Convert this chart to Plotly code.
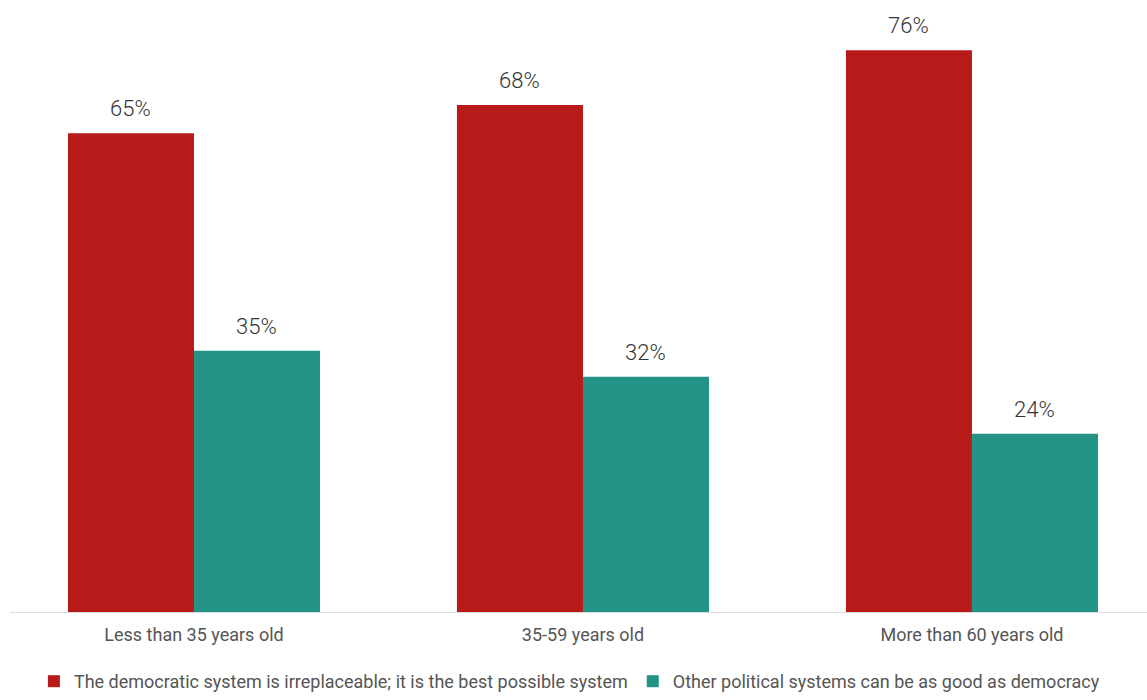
import plotly.graph_objects as go

categories = ["Less than 35 years old", "35-59 years old", "More than 60 years old"]
series_names = [
    "The democratic system is irreplaceable; it is the best possible system",
    "Other political systems can be as good as democracy",
]
irreplaceable = [64.7, 68.5, 75.9]
other_systems = [35.3, 31.8, 24.1]
colors = ["#B81A1A", "#239386"]
offsets = [-63, 63]

fig = go.Figure()
for name, vals, col, off in zip(series_names, [irreplaceable, other_systems], colors, offsets):
    fig.add_trace(go.Bar(
        x=categories, y=vals, name=name, marker_color=col, marker_line_width=0,
    ))
    for c, v in zip(categories, vals):
        fig.add_annotation(x=c, y=v, text=f"{v:.0f}%", showarrow=False,
                           xshift=off, yshift=10, yanchor="bottom",
                           font=dict(size=22, color="#333333", family="Roboto", weight=300))

fig.update_layout(
    width=1147, height=700,
    margin=dict(l=10, r=0, t=0, b=88, autoexpand=False),
    barmode="group", bargap=0.352, bargroupgap=0,
    plot_bgcolor="white", paper_bgcolor="white",
    font=dict(family="Roboto", color="#555555", size=18),
    showlegend=True,
    legend=dict(orientation="h", x=0.492, xanchor="center", yref="container", y=-0.05,
                yanchor="bottom",
                font=dict(size=18, color="#555555"), itemwidth=30, traceorder="normal"),
    xaxis=dict(range=[-0.473, 2.45], showline=True, linecolor="#dddddd", linewidth=1,
               ticks="", ticklabelstandoff=6, tickfont=dict(size=18, color="#555555")),
    yaxis=dict(range=[0, 82.7], visible=False, showgrid=False),
)
fig.write_html("out.html")
